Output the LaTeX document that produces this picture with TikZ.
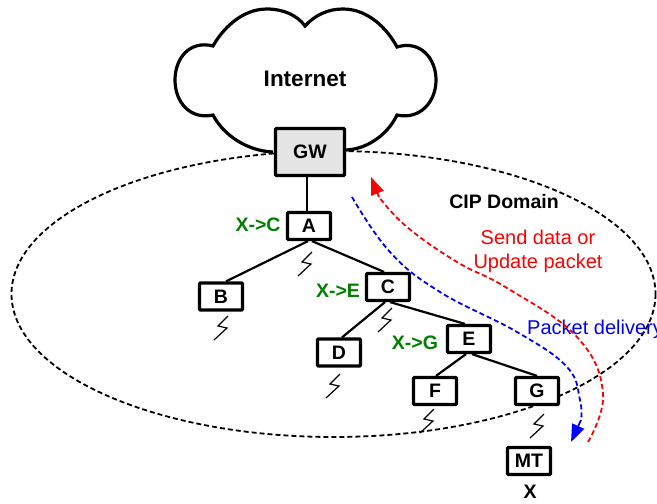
\documentclass[tikz,border=0pt]{standalone}
\usepackage{fontspec}
\setmainfont{Liberation Sans}
\usetikzlibrary{arrows.meta}
\definecolor{labgreen}{RGB}{0,128,0}
\tikzset{
  x=1pt,y=-1pt,
  boxnode/.style={draw=black,line width=3.2pt,rounded corners=1pt,fill=white,minimum width=43pt,minimum height=27pt,inner sep=0pt,font=\fontsize{19.5}{22}\selectfont\bfseries},
  gwnode/.style={boxnode,fill=black!10,minimum width=69pt,minimum height=47pt},
  bold lab/.style={font=\fontsize{19.5}{22}\selectfont\bfseries,inner sep=0pt},
  plain lab/.style={font=\fontsize{20}{24}\selectfont,inner sep=0pt},
  greenlab/.style={bold lab,text=labgreen},
  link/.style={line width=2.2pt},
  domain line/.style={line width=1.8pt,dash pattern=on 5pt off 3pt},
  flow/.style={line width=1.8pt,dash pattern=on 5pt off 3pt},
  zap/.pic={\draw[line width=1.2pt] (0,0) -- (-10,10) -- (-1,12) -- (-14,24);}
}
\begin{document}
\begin{tikzpicture}
\useasboundingbox (0,0) rectangle (657,504);
% cloud
\draw[line width=3.2pt,fill=white] (273,152)
  .. controls (248,151) and (224,136) .. (213,115)
  .. controls (190,120) and (175,102) .. (175,80)
  .. controls (175,58) and (190,40) .. (213,46)
  .. controls (222,30) and (241,9) .. (267,9)
  .. controls (283,9) and (297,15) .. (305,26)
  .. controls (315,15) and (328,9) .. (343,9)
  .. controls (369,9) and (388,30) .. (397,47)
  .. controls (420,40) and (436,58) .. (436,80)
  .. controls (436,102) and (420,120) .. (397,115)
  .. controls (388,134) and (368,149) .. (346,150);
\node[font=\fontsize{22.5}{26}\selectfont\bfseries,inner sep=0pt] (internet) at (305,79) {Internet};
% domain
\draw[domain line] (333.5,294) ellipse [x radius=322,y radius=143];
% nodes
\node[gwnode] (gw) at (310,152) {GW};
\node[boxnode] (a) at (309,226) {A};
\node[boxnode] (b) at (221,296.5) {B};
\node[boxnode] (c) at (388,287) {C};
\node[boxnode] (d) at (339,352.5) {D};
\node[boxnode] (e) at (469,339) {E};
\node[boxnode] (f) at (435,391) {F};
\node[boxnode] (g) at (537,391) {G};
\node[boxnode] (mt) at (529,461) {MT};
\node[bold lab] (x) at (530,492) {X};
% links
\draw[line width=1.5pt] ([xshift=-3pt]gw.south) -- ([xshift=-2pt]a.north);
\draw[link] ([xshift=-1pt]a.south) -- ([xshift=5pt]b.north);
\draw[link] ([xshift=3pt]a.south) -- ([xshift=-4pt]c.north);
\draw[link] ([xshift=-3pt]c.south) -- ([xshift=3pt]d.north);
\draw[link] ([xshift=2pt]c.south) -- ([xshift=-4pt]e.north);
\draw[link] ([xshift=-3pt]e.south) -- ([xshift=1pt]f.north);
\draw[link] ([xshift=3pt]e.south) -- (g.north);
% wireless
\pic at (312,252) {zap};
\pic at (228,316) {zap};
\pic at (392,308) {zap};
\pic at (340,374) {zap};
\pic at (434,409) {zap};
\pic at (544,414) {zap};
% labels
\node[greenlab] (xc) at (258,225) {X->C};
\node[greenlab] (xe) at (338,291) {X->E};
\node[greenlab] (xg) at (415,343) {X->G};
\node[bold lab] (cip) at (504,202) {CIP Domain};
\node[plain lab,text=red,align=center] (send) at (538,251) {Send data or\\Update packet};
\node[plain lab,text=blue,anchor=west] (deliv) at (527,329) {Packet delivery};
% flows
\coordinate (bluestart) at (352,197);
\coordinate (bluebase) at (581,420);
\coordinate (bluetip) at (571,442);
\coordinate (redstart) at (588,442);
\coordinate (redbase) at (379,197);
\coordinate (redtip) at (371,177);
\draw[flow,blue] plot[smooth,tension=0.7] coordinates {(bluestart) (390,252) (440,292) (517,332) (567,367) (580,400) (bluebase)};
\draw[line width=1.8pt,blue,-{Triangle[length=17.5pt,width=13pt]}] (bluebase) -- (bluetip);
\draw[flow,red] plot[smooth,tension=0.7] coordinates {(redstart) (603,393) (577,337) (507,288) (457,262) (407,227) (redbase)};
\draw[line width=1.8pt,red,-{Triangle[length=17.5pt,width=13pt]}] (redbase) -- (redtip);
\end{tikzpicture}
\end{document}
